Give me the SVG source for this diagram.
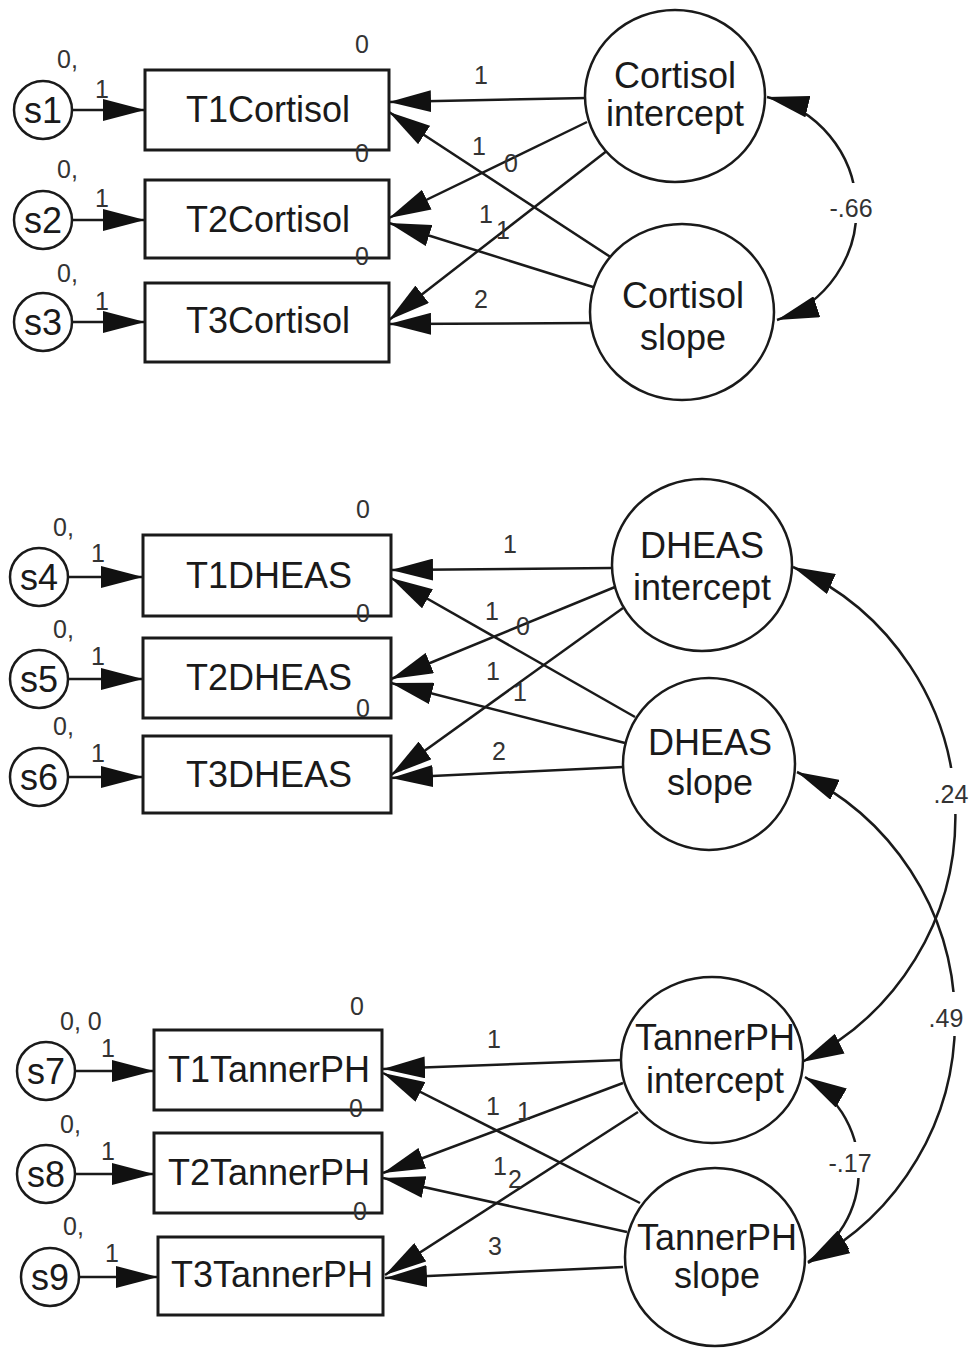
<svg xmlns="http://www.w3.org/2000/svg" width="971" height="1349" viewBox="0 0 971 1349">
<style>
.bg{fill:#fff}
.box{fill:#fff;stroke:#1a1a1a;stroke-width:3}
.lat{fill:#fff;stroke:#1a1a1a;stroke-width:2.5}
.err{fill:#fff;stroke:#1a1a1a;stroke-width:2.5}
.big{font-family:"Liberation Sans",Arial,sans-serif;font-size:36px;fill:#1a1a1a;text-anchor:middle}
.sm{font-family:"Liberation Sans",Arial,sans-serif;font-size:25px;fill:#333}
.cv{font-family:"Liberation Sans",Arial,sans-serif;font-size:25px;fill:#333;text-anchor:middle}
.ln{fill:none;stroke:#1a1a1a;stroke-width:2.5;marker-end:url(#ah)}
.dbl{fill:none;stroke:#1a1a1a;stroke-width:2.5;marker-start:url(#ah);marker-end:url(#ah)}
.gap{fill:#fff}
</style>
<defs>
<marker id="ah" viewBox="0 0 42 22" refX="42" refY="11" markerWidth="42" markerHeight="22" markerUnits="userSpaceOnUse" orient="auto-start-reverse">
<path d="M0,0 L42,11 L0,22 Z" fill="#111"/>
</marker>
</defs>
<rect class="bg" x="0" y="0" width="971" height="1349"/>

<g id="connectors">
<!-- error arrows -->
<path class="ln" d="M72,110 L145,110"/>
<path class="ln" d="M72,220 L145,220"/>
<path class="ln" d="M72,322 L145,322"/>
<path class="ln" d="M68,577 L143,577"/>
<path class="ln" d="M68,679 L143,679"/>
<path class="ln" d="M68,777 L143,777"/>
<path class="ln" d="M75,1071 L154,1071"/>
<path class="ln" d="M75,1174 L154,1174"/>
<path class="ln" d="M79,1277 L158,1277"/>
<!-- cortisol loadings -->
<path class="ln" d="M587,98 L389,102"/>
<path class="ln" d="M587,122 L389,218"/>
<path class="ln" d="M608,150 L389,320"/>
<path class="ln" d="M612,258 L389,112"/>
<path class="ln" d="M593,287 L389,223"/>
<path class="ln" d="M590,323 L389,324"/>
<!-- DHEAS loadings -->
<path class="ln" d="M612,568 L391,570"/>
<path class="ln" d="M615,587 L391,679"/>
<path class="ln" d="M623,608 L391,775"/>
<path class="ln" d="M635,717 L391,578"/>
<path class="ln" d="M625,743 L391,683"/>
<path class="ln" d="M623,767 L391,778"/>
<!-- Tanner loadings -->
<path class="ln" d="M622,1060 L383,1069"/>
<path class="ln" d="M623,1083 L383,1173"/>
<path class="ln" d="M638,1112 L385,1275"/>
<path class="ln" d="M640,1203 L383,1073"/>
<path class="ln" d="M627,1232 L383,1178"/>
<path class="ln" d="M623,1267 L385,1278"/>
<!-- covariances -->
<path class="dbl" d="M767,97 A116,116 0 0 1 777,320"/>
<path class="dbl" d="M793,567 A273,273 0 0 1 802,1062"/>
<path class="dbl" d="M797,772 A274,274 0 0 1 808,1263"/>
<path class="dbl" d="M805,1077 A108,108 0 0 1 808,1262"/>
<!-- label gaps -->
<rect class="gap" x="828" y="183" width="48" height="40"/>
<rect class="gap" x="930" y="768" width="40" height="46"/>
<rect class="gap" x="926" y="992" width="40" height="44"/>
<rect class="gap" x="826" y="1142" width="50" height="36"/>
<!-- path labels -->
<text class="cv" x="851" y="217">-.66</text>
<text class="cv" x="951" y="803">.24</text>
<text class="cv" x="946" y="1027">.49</text>
<text class="cv" x="850" y="1172">-.17</text>
<text class="sm" x="474" y="84">1</text>
<text class="sm" x="472" y="155">1</text>
<text class="sm" x="504" y="172">0</text>
<text class="sm" x="479" y="223">1</text>
<text class="sm" x="496" y="239">1</text>
<text class="sm" x="474" y="308">2</text>
<text class="sm" x="503" y="553">1</text>
<text class="sm" x="485" y="620">1</text>
<text class="sm" x="516" y="635">0</text>
<text class="sm" x="486" y="680">1</text>
<text class="sm" x="513" y="701">1</text>
<text class="sm" x="492" y="760">2</text>
<text class="sm" x="487" y="1048">1</text>
<text class="sm" x="486" y="1115">1</text>
<text class="sm" x="517" y="1120">1</text>
<text class="sm" x="493" y="1175">1</text>
<text class="sm" x="508" y="1188">2</text>
<text class="sm" x="488" y="1255">3</text>
</g>

<g id="s1"><circle class="err" cx="43" cy="110" r="29"/><text class="big" x="43" y="123">s1</text></g>
<g id="s2"><circle class="err" cx="43" cy="220" r="29"/><text class="big" x="43" y="233">s2</text></g>
<g id="s3"><circle class="err" cx="43" cy="322" r="29"/><text class="big" x="43" y="335">s3</text></g>
<g id="s4"><circle class="err" cx="39" cy="577" r="29"/><text class="big" x="39" y="590">s4</text></g>
<g id="s5"><circle class="err" cx="39" cy="679" r="29"/><text class="big" x="39" y="692">s5</text></g>
<g id="s6"><circle class="err" cx="39" cy="777" r="29"/><text class="big" x="39" y="790">s6</text></g>
<g id="s7"><circle class="err" cx="46" cy="1071" r="29"/><text class="big" x="46" y="1084">s7</text></g>
<g id="s8"><circle class="err" cx="46" cy="1174" r="29"/><text class="big" x="46" y="1187">s8</text></g>
<g id="s9"><circle class="err" cx="50" cy="1277" r="29"/><text class="big" x="50" y="1290">s9</text></g>

<g id="err-labels">
<text class="sm" x="57" y="68">0,</text><text class="sm" x="95" y="98">1</text>
<text class="sm" x="57" y="178">0,</text><text class="sm" x="95" y="207">1</text>
<text class="sm" x="57" y="282">0,</text><text class="sm" x="95" y="310">1</text>
<text class="sm" x="53" y="536">0,</text><text class="sm" x="91" y="562">1</text>
<text class="sm" x="53" y="638">0,</text><text class="sm" x="91" y="665">1</text>
<text class="sm" x="53" y="735">0,</text><text class="sm" x="91" y="762">1</text>
<text class="sm" x="60" y="1030">0, 0</text><text class="sm" x="101" y="1057">1</text>
<text class="sm" x="60" y="1133">0,</text><text class="sm" x="101" y="1160">1</text>
<text class="sm" x="63" y="1235">0,</text><text class="sm" x="105" y="1262">1</text>
</g>

<g id="T1Cortisol"><rect class="box" x="145" y="70" width="244" height="80"/><text class="big" x="268" y="122">T1Cortisol</text><text class="sm" x="355" y="53">0</text></g>
<g id="T2Cortisol"><rect class="box" x="145" y="180" width="244" height="78"/><text class="big" x="268" y="232">T2Cortisol</text><text class="sm" x="355" y="162">0</text></g>
<g id="T3Cortisol"><rect class="box" x="145" y="283" width="244" height="79"/><text class="big" x="268" y="333">T3Cortisol</text><text class="sm" x="355" y="265">0</text></g>

<g id="T1DHEAS"><rect class="box" x="143" y="535" width="248" height="81"/><text class="big" x="269" y="588">T1DHEAS</text><text class="sm" x="356" y="518">0</text></g>
<g id="T2DHEAS"><rect class="box" x="143" y="638" width="248" height="80"/><text class="big" x="269" y="690">T2DHEAS</text><text class="sm" x="356" y="622">0</text></g>
<g id="T3DHEAS"><rect class="box" x="143" y="736" width="248" height="77"/><text class="big" x="269" y="787">T3DHEAS</text><text class="sm" x="356" y="717">0</text></g>

<g id="T1TannerPH"><rect class="box" x="154" y="1030" width="228" height="80"/><text class="big" x="269" y="1082">T1TannerPH</text><text class="sm" x="350" y="1015">0</text></g>
<g id="T2TannerPH"><rect class="box" x="154" y="1133" width="228" height="80"/><text class="big" x="269" y="1185">T2TannerPH</text><text class="sm" x="349" y="1117">0</text></g>
<g id="T3TannerPH"><rect class="box" x="158" y="1237" width="225" height="78"/><text class="big" x="272" y="1287">T3TannerPH</text><text class="sm" x="353" y="1220">0</text></g>

<g id="CortisolIntercept"><ellipse class="lat" cx="675" cy="96" rx="90" ry="86"/><text class="big" x="675" y="88">Cortisol</text><text class="big" x="675" y="126">intercept</text></g>
<g id="CortisolSlope"><ellipse class="lat" cx="682" cy="312" rx="92" ry="88"/><text class="big" x="683" y="308">Cortisol</text><text class="big" x="683" y="350">slope</text></g>
<g id="DHEASIntercept"><ellipse class="lat" cx="702" cy="565" rx="90" ry="86"/><text class="big" x="702" y="558">DHEAS</text><text class="big" x="702" y="600">intercept</text></g>
<g id="DHEASSlope"><ellipse class="lat" cx="709" cy="764" rx="86" ry="86"/><text class="big" x="710" y="755">DHEAS</text><text class="big" x="710" y="795">slope</text></g>
<g id="TannerPHIntercept"><ellipse class="lat" cx="712" cy="1060" rx="91" ry="83"/><text class="big" x="715" y="1050">TannerPH</text><text class="big" x="715" y="1093">intercept</text></g>
<g id="TannerPHSlope"><ellipse class="lat" cx="715" cy="1257" rx="90" ry="89"/><text class="big" x="717" y="1250">TannerPH</text><text class="big" x="717" y="1288">slope</text></g>
</svg>
